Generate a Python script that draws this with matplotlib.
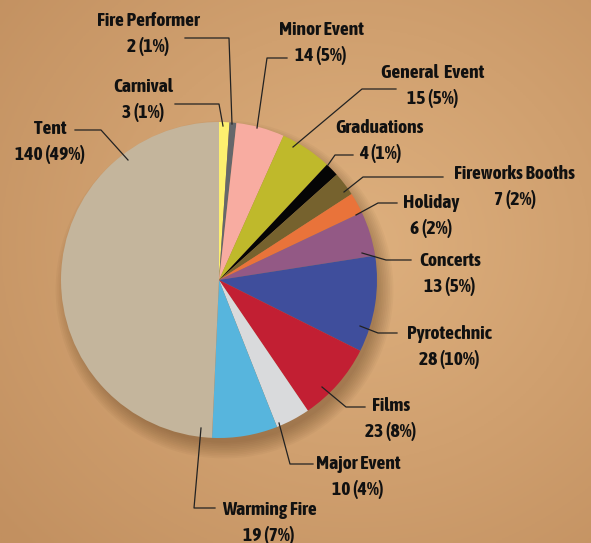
import numpy as np
import matplotlib
matplotlib.use("Agg")
from matplotlib import pyplot as plt
from matplotlib import font_manager
from matplotlib import patheffects
from matplotlib.patches import Circle

# incident counts by type, clockwise from 12 o'clock
categories = ["Carnival", "Fire Performer", "Minor Event", "General  Event", "Graduations",
              "Fireworks Booths", "Holiday", "Concerts", "Pyrotechnic", "Films",
              "Major Event", "Warming Fire", "Tent"]
counts = [3, 2, 14, 15, 4, 7, 6, 13, 28, 23, 10, 19, 140]
colors = ["#fdf06f", "#65676b", "#f8aca1", "#bfb92b", "#050505", "#76622e", "#e9733a",
          "#935985", "#3f4e9c", "#c21f33", "#d9dadc", "#57b5dd", "#c4b59c"]

# label layout in image pixels: (text centre, elbow, tip)
label_px = [
    ((143, 100), (219, 104), (223, 126)),
    ((148, 34), (229, 38), (232, 124)),
    ((321, 43), (267, 58), (257, 128)),
    ((433, 86), (362, 89), (293, 147)),
    ((380, 141), (335, 155), (328, 165)),
    ((515, 187), (363, 177), (344, 192)),
    ((431, 216), (378, 203), (356, 215)),
    ((450, 274), (386, 260), (362, 253)),
    ((449, 347), (378, 333), (360, 326)),
    ((391, 419), (346, 407), (322, 387)),
    ((358, 477), (290, 464), (279, 423)),
    ((269, 523), (194, 508), (201, 428)),
    ((50, 142), (101, 130), (128, 160)),
]
line_end_px = [175, 185, 287, 396, 353, 443, 397, 411, 397, 365, 313, 215, 75]

W, H = 591, 543
cx, cy, R = 219, 280, 158

def to_data(p):
    return ((p[0] - cx) / R, (cy - p[1]) / R)

# look for a condensed face; bold if there is one, else thicken with a stroke
fonts = font_manager.fontManager.ttflist
narrow = [f for f in fonts if "Condensed" in f.name or "Narrow" in f.name]
bold_narrow = [f for f in narrow if (f.weight if isinstance(f.weight, int) else 400) >= 600
               or f.weight == "bold"]
stroke = []
if bold_narrow:
    family, weight = bold_narrow[0].name, "bold"
elif narrow:
    family, weight = narrow[0].name, "normal"
    stroke = [patheffects.withStroke(linewidth=0.9, foreground="#111111")]
else:
    family, weight = "Lato", "bold"
plt.rcParams['font.family'] = [family, 'DejaVu Sans']

fig = plt.figure(figsize=(W / 100, H / 100), dpi=100)

# parchment background
bg = fig.add_axes([0, 0, 1, 1])
yy, xx = np.mgrid[0:1:200j, 0:1:200j]
d = np.sqrt((xx - 0.6) ** 2 + (yy - 0.45) ** 2)
c0 = np.array([222, 176, 126]) / 255
c1 = np.array([194, 144, 96]) / 255
t = np.clip(d / 0.8, 0, 1)[..., None]
bg.imshow(c0 * (1 - t) + c1 * t, extent=[0, 1, 0, 1], aspect="auto")
bg.axis("off")

ax = fig.add_axes([(cx - R) / W, (H - cy - R) / H, 2 * R / W, 2 * R / H])

# soft shadow, mostly below and to the right
for i in range(10):
    ax.add_patch(Circle((0.035, -0.06), 0.97 + 0.011 * i, color="#4a2e12",
                        alpha=0.04, lw=0, zorder=0, clip_on=False))

ax.pie(counts, colors=colors, startangle=90, counterclock=False, radius=1,
       wedgeprops=dict(linewidth=0), frame=True)
ax.set_xlim(-1, 1)
ax.set_ylim(-1, 1)
ax.axis("off")

total = sum(counts)
for name, v, (txt, elbow, tip), xend in zip(categories, counts, label_px, line_end_px):
    pct = round(v / total * 100)
    ax.text(*to_data(txt), f"{name}\n{v} ({pct}%)", ha="center", va="center",
            fontsize=14, fontweight=weight, color="#111111", linespacing=1.42,
            path_effects=stroke, clip_on=False)
    pts = [to_data(tip), to_data(elbow), to_data((xend, elbow[1]))]
    ax.plot([p[0] for p in pts], [p[1] for p in pts], color="#222222", lw=0.9,
            clip_on=False)

fig.savefig("out.png", dpi=100)
